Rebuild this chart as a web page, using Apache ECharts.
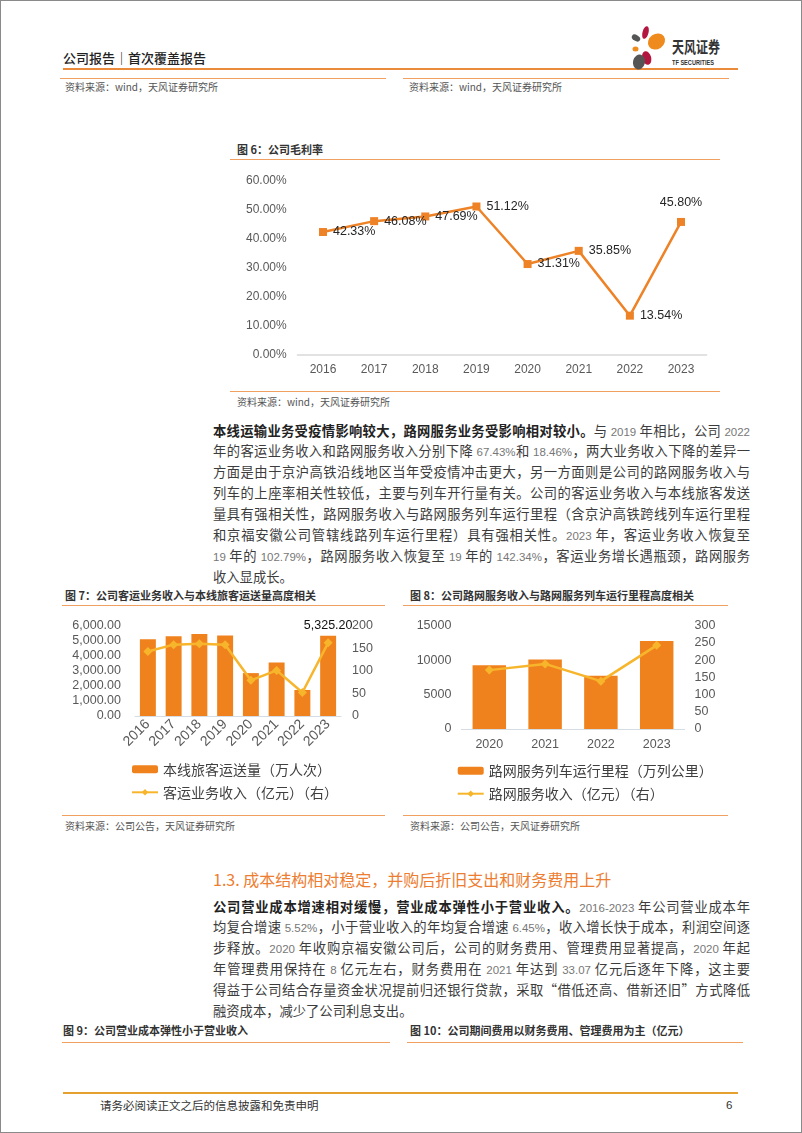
<!DOCTYPE html>
<html><head><meta charset="utf-8">
<script src="https://cdn.jsdelivr.net/npm/echarts@6/dist/echarts.min.js"></script>
<style>
html,body{margin:0;padding:0;background:#fff;}
#page{position:relative;width:802px;height:1133px;overflow:hidden;font-family:"Noto Sans CJK SC","Noto Sans",sans-serif;color:#333;background:#fff;}
#frame{position:absolute;left:0;top:0;width:800px;height:1131px;border:1px solid #8a8a8a;pointer-events:none;}
.hl{position:absolute;height:0;border-top:1.5px solid #F0A060;}
.cap{position:absolute;font-size:11px;font-weight:bold;color:#333;white-space:nowrap;line-height:14px;}
.src{position:absolute;font-size:10px;color:#555;white-space:nowrap;line-height:12px;}
.para{position:absolute;left:213px;width:537px;font-size:13.3px;line-height:20.9px;color:#3c3c3c;}
.para div{text-align:justify;text-align-last:justify;height:20.9px;overflow:visible;}
.para div.last{text-align-last:left;}
.n{font-family:"Liberation Sans",Arial,sans-serif;font-size:11.5px;color:#777;}
.para b{color:#222;}
.chart{position:absolute;}
</style>
</head><body>
<div id="page">
  <div style="position:absolute;left:63px;top:50px;font-size:13px;line-height:16px;color:#222;font-weight:500;white-space:nowrap;">公司报告｜首次覆盖报告</div>
  <div class="hl" style="left:63px;top:68px;width:675px;border-top:2px solid #E98B3A;"></div>
  <svg style="position:absolute;left:628px;top:24px;" width="44" height="48">
    <ellipse cx="8" cy="14" rx="4.5" ry="3" fill="#555" transform="rotate(30 8 14)"/>
    <ellipse cx="17.5" cy="8.5" rx="3" ry="6.5" fill="#B3163E" transform="rotate(15 17.5 8.5)"/>
    <ellipse cx="28.5" cy="17.5" rx="9" ry="7.5" fill="#EE8A1E" transform="rotate(-35 28.5 17.5)"/>
    <ellipse cx="7.5" cy="25" rx="3" ry="2.5" fill="#EE8A1E"/>
    <ellipse cx="18.7" cy="34" rx="4.5" ry="7" fill="#B3163E" transform="rotate(-15 18.7 34)"/>
    <ellipse cx="11" cy="38" rx="6" ry="7.5" fill="#555" transform="rotate(15 11 38)"/>
  </svg>
  <div style="position:absolute;left:672px;top:39px;font-size:12px;line-height:16px;font-weight:bold;color:#333;white-space:nowrap;transform:scaleY(1.3);transform-origin:left center;">天风证券</div>
  <div style="position:absolute;left:672px;top:58px;font-size:5.6px;line-height:8px;font-weight:bold;color:#333;white-space:nowrap;font-family:'Liberation Sans',Arial,sans-serif;transform:scaleY(1.25);transform-origin:left center;">TF SECURITIES</div>

  <div class="hl" style="left:60px;top:78px;width:326px;"></div>
  <div class="hl" style="left:403px;top:78px;width:326px;"></div>
  <div class="src" style="left:65px;top:81px;">资料来源：wind，天风证券研究所</div>
  <div class="src" style="left:409px;top:81px;">资料来源：wind，天风证券研究所</div>

  <div class="cap" style="left:237px;top:142px;">图 6：公司毛利率</div>
  <div class="hl" style="left:230px;top:159px;width:490px;"></div>
  <div id="c6" class="chart" style="left:220px;top:160px;width:500px;height:225px;"></div>
  <div class="hl" style="left:230px;top:391px;width:490px;"></div>
  <div class="src" style="left:237px;top:396px;">资料来源：wind，天风证券研究所</div>

  <div class="para" style="top:420.5px;">
    <div><b>本线运输业务受疫情影响较大，路网服务业务受影响相对较小。</b>与 <span class="n">2019</span> 年相比，公司 <span class="n">2022</span></div>
    <div>年的客运业务收入和路网服务收入分别下降 <span class="n">67.43%</span>和 <span class="n">18.46%</span>，两大业务收入下降的差异一</div>
    <div>方面是由于京沪高铁沿线地区当年受疫情冲击更大，另一方面则是公司的路网服务收入与</div>
    <div>列车的上座率相关性较低，主要与列车开行量有关。公司的客运业务收入与本线旅客发送</div>
    <div>量具有强相关性，路网服务收入与路网服务列车运行里程（含京沪高铁跨线列车运行里程</div>
    <div>和京福安徽公司管辖线路列车运行里程）具有强相关性。<span class="n">2023</span> 年，客运业务收入恢复至</div>
    <div><span class="n">19</span> 年的 <span class="n">102.79%</span>，路网服务收入恢复至 <span class="n">19</span> 年的 <span class="n">142.34%</span>，客运业务增长遇瓶颈，路网服务</div>
    <div class="last">收入显成长。</div>
  </div>

  <div class="cap" style="left:65px;top:588px;">图 7：公司客运业务收入与本线旅客运送量高度相关</div>
  <div class="hl" style="left:62px;top:605px;width:323px;"></div>
  <div id="c7" class="chart" style="left:60px;top:606px;width:330px;height:205px;"></div>
  <div class="hl" style="left:62px;top:815px;width:323px;"></div>
  <div class="src" style="left:65px;top:820px;">资料来源：公司公告，天风证券研究所</div>

  <div class="cap" style="left:410px;top:588px;">图 8：公司路网服务收入与路网服务列车运行里程高度相关</div>
  <div class="hl" style="left:403px;top:605px;width:325px;"></div>
  <div id="c8" class="chart" style="left:400px;top:606px;width:330px;height:205px;"></div>
  <div class="hl" style="left:403px;top:815px;width:325px;"></div>
  <div class="src" style="left:410px;top:820px;">资料来源：公司公告，天风证券研究所</div>

  <div style="position:absolute;left:213px;top:868px;font-size:16px;line-height:22px;color:#ED7D31;white-space:nowrap;">1.3. 成本结构相对稳定，并购后折旧支出和财务费用上升</div>

  <div class="para" style="top:896.5px;">
    <div><b>公司营业成本增速相对缓慢，营业成本弹性小于营业收入。</b><span class="n">2016-2023</span> 年公司营业成本年</div>
    <div>均复合增速 <span class="n">5.52%</span>，小于营业收入的年均复合增速 <span class="n">6.45%</span>，收入增长快于成本，利润空间逐</div>
    <div>步释放。<span class="n">2020</span> 年收购京福安徽公司后，公司的财务费用、管理费用显著提高，<span class="n">2020</span> 年起</div>
    <div>年管理费用保持在 <span class="n">8</span> 亿元左右，财务费用在 <span class="n">2021</span> 年达到 <span class="n">33.07</span> 亿元后逐年下降，这主要</div>
    <div>得益于公司结合存量资金状况提前归还银行贷款，采取“借低还高、借新还旧”方式降低</div>
    <div class="last">融资成本，减少了公司利息支出。</div>
  </div>

  <div class="cap" style="left:63px;top:1023px;">图 9：公司营业成本弹性小于营业收入</div>
  <div class="cap" style="left:410px;top:1023px;">图 10：公司期间费用以财务费用、管理费用为主（亿元）</div>
  <div class="hl" style="left:62px;top:1042px;width:328px;"></div>
  <div class="hl" style="left:407px;top:1042px;width:336px;"></div>

  <div class="hl" style="left:63px;top:1092px;width:675px;border-top:2px solid #E5A030;"></div>
  <div style="position:absolute;left:100px;top:1097px;font-size:11.5px;line-height:16px;color:#333;white-space:nowrap;">请务必阅读正文之后的信息披露和免责申明</div>
  <div style="position:absolute;left:726px;top:1097px;font-size:11.5px;line-height:16px;color:#333;font-family:'Liberation Sans',Arial,sans-serif;">6</div>
  <div id="frame"></div>
</div>
<script>
// ---- Figure 6: gross margin (%)
const years6 = ['2016','2017','2018','2019','2020','2021','2022','2023'];
const grossMargin = [42.33, 46.08, 47.69, 51.12, 31.31, 35.85, 13.54, 45.80];
// ---- Figure 7: passengers (万人次) and passenger revenue (亿元)
const years7 = ['2016','2017','2018','2019','2020','2021','2022','2023'];
const passengers = [5100, 5300, 5450, 5350, 2850, 3560, 1730, 5325.20];
const passengerRevenue = [143, 158, 160, 158, 79, 101, 52, 162];
// ---- Figure 8: network mileage (万列公里) and network revenue (亿元)
const years8 = ['2020','2021','2022','2023'];
const networkMileage = [9250, 10100, 7750, 12780];
const networkRevenue = [171, 189, 139, 243];
// ---- legend names
const legend7 = ['本线旅客运送量（万人次）', '客运业务收入（亿元）（右）'];
const legend8 = ['路网服务列车运行里程（万列公里）', '路网服务收入（亿元）（右）'];

const NUM = "'Liberation Sans', Arial, sans-serif";
const CJK = "'Noto Sans CJK SC', sans-serif";
const ORANGE = '#EE8226';
const BAR = '#F0821E';
const GOLD = '#F7B52C';
const AXC = '#595959';

const c6 = echarts.init(document.getElementById('c6'));
c6.setOption({
  animation: false,
  grid: {left: 77.4, top: 20.7, width: 409.2, height: 174.3},
  xAxis: {type: 'category', data: years6, axisLine: {lineStyle: {color: '#D9D9D9', width: 1.5}}, axisTick: {show: false},
    axisLabel: {color: AXC, fontSize: 12, margin: 9, fontFamily: NUM}},
  yAxis: {type: 'value', min: 0, max: 60, interval: 10, axisLine: {show: false}, axisTick: {show: false}, splitLine: {show: false},
    axisLabel: {color: AXC, fontSize: 12, margin: 10.7, fontFamily: NUM, formatter: v => v.toFixed(2) + '%'}},
  series: [{
    type: 'line', symbol: 'rect', symbolSize: 8,
    data: grossMargin.map((v, i) => i === grossMargin.length - 1 ? {value: v, label: {position: 'top', distance: 9}} : v),
    itemStyle: {color: ORANGE}, lineStyle: {color: ORANGE, width: 2.5},
    label: {show: true, position: 'right', distance: 6, color: '#262626', fontSize: 12.5, fontFamily: NUM,
      formatter: p => Number(p.value).toFixed(2) + '%'}
  }]
});

function dualOption(cats, bars, line, names, cfg) {
  return {
    animation: false,
    grid: cfg.grid,
    legend: {orient: 'vertical', left: cfg.legendLeft, top: cfg.legendTop, padding: 0, itemWidth: 26, itemHeight: 8, itemGap: 8,
      textStyle: {fontSize: 14, color: '#404040', fontFamily: CJK, lineHeight: 15}, data: names},
    xAxis: {type: 'category', data: cats, axisLine: {lineStyle: {color: '#D6DCE4', width: 1}}, axisTick: {show: false},
      axisLabel: {color: AXC, fontSize: cfg.xFont, fontFamily: NUM, rotate: cfg.rotate, margin: cfg.xMargin, interval: 0}},
    yAxis: [
      {type: 'value', min: 0, max: cfg.lMax, interval: cfg.lInt, splitLine: {show: false}, axisLine: {show: false}, axisTick: {show: false},
        axisLabel: {color: AXC, fontSize: 12.5, fontFamily: NUM, margin: cfg.lMargin, formatter: cfg.lFmt}},
      {type: 'value', min: 0, max: cfg.rMax, interval: cfg.rInt, splitLine: {show: false}, axisLine: {show: false}, axisTick: {show: false},
        axisLabel: {color: AXC, fontSize: 12.5, fontFamily: NUM, margin: cfg.rMargin}}
    ],
    series: [
      {name: names[0], type: 'bar', barWidth: cfg.barWidth, itemStyle: {color: BAR},
        data: bars.map((v, i) => (cfg.labelLast && i === bars.length - 1) ?
          {value: v, label: {show: true, position: 'top', distance: 4, color: '#111', fontSize: 12.5, fontFamily: NUM,
            formatter: p => Number(p.value).toLocaleString('en-US', {minimumFractionDigits: 2, maximumFractionDigits: 2})}} : v)},
      {name: names[1], type: 'line', yAxisIndex: 1, data: line, symbol: 'diamond', symbolSize: 9,
        itemStyle: {color: GOLD}, lineStyle: {color: GOLD, width: 2.5}}
    ]
  };
}

const c7 = echarts.init(document.getElementById('c7'));
c7.setOption(dualOption(years7, passengers, passengerRevenue, legend7, {
  grid: {left: 75, top: 19.7, width: 206, height: 90.3},
  legendLeft: 71, legendTop: 155.8, rotate: 45, xMargin: 6, xFont: 14,
  lMax: 6000, lInt: 1000, lMargin: 14,
  lFmt: v => v.toLocaleString('en-US', {minimumFractionDigits: 2, maximumFractionDigits: 2}),
  rMax: 200, rInt: 50, rMargin: 11, barWidth: '62%', labelLast: true
}));

const c8 = echarts.init(document.getElementById('c8'));
c8.setOption(dualOption(years8, networkMileage, networkRevenue, legend8, {
  grid: {left: 61.4, top: 19.7, width: 223.2, height: 103.3},
  legendLeft: 56.7, legendTop: 157.2, rotate: 0, xMargin: 9, xFont: 12.5,
  lMax: 15000, lInt: 5000, lMargin: 10, lFmt: v => String(v),
  rMax: 300, rInt: 50, rMargin: 10, barWidth: '60%', labelLast: false
}));
</script>
</body></html>
